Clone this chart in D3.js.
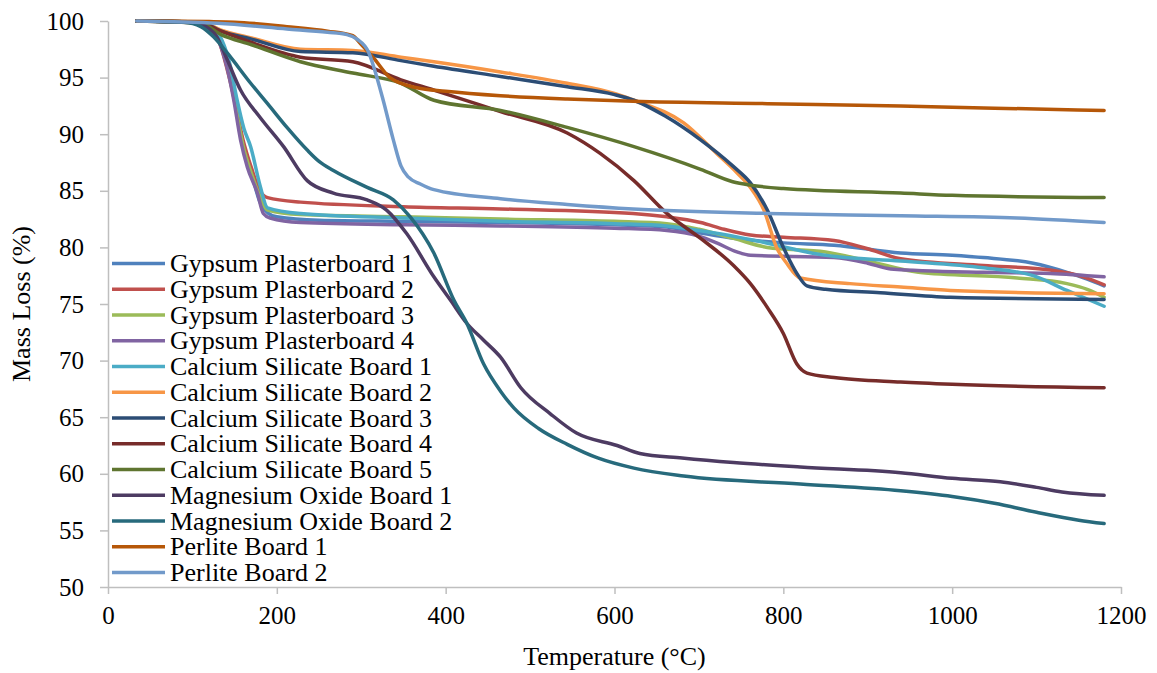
<!DOCTYPE html>
<html lang="en">
<head>
<meta charset="UTF-8">
<title>Mass Loss vs Temperature</title>
<script src="https://d3js.org/d3.v7.min.js"></script>
<style>
  body { margin: 0; background: #fff; }
  svg text { font-family: "Liberation Serif", "Times New Roman", Tinos, "DejaVu Serif", serif !important; fill: #000; }
</style>
</head>
<body>
<script>
// series data: [temperature (°C), mass loss (%)]
var gypsum1 = [[34,100],[100,99.9],[120,99.5],[130,98.6],[140,96.5],[150,93],[160,89],[170,86.5],[180,84],[190,83],[200,82.7],[250,82.4],[350,82.3],[465,82.2],[600,82],[662,81.8],[700,81.3],[741,80.8],[800,80.4],[860,80.2],[939,79.5],[1000,79.3],[1037,79.1],[1096,78.6],[1136,77.8],[1160,77.2],[1180,76.6]];
var gypsum2 = [[34,100],[100,99.9],[120,99.4],[130,98.5],[142,95.5],[150,93],[160,89.5],[170,87],[180,85],[189,84.4],[228,84],[350,83.6],[465,83.4],[622,83.0],[662,82.7],[702,82.2],[730,81.6],[761,81.1],[800,80.9],[860,80.6],[899,79.9],[939,79],[1037,78.4],[1116,78],[1155,77.4],[1180,76.7]];
var gypsum3 = [[34,100],[100,99.9],[120,99.4],[130,98.6],[143,95.5],[151,92.5],[160,89],[170,86.5],[180,84.5],[189,83.3],[228,82.9],[350,82.7],[465,82.5],[600,82.3],[662,82.1],[700,81.6],[741,80.8],[781,80],[850,79.6],[900,78.8],[960,77.8],[1077,77.3],[1136,76.8],[1160,76.3],[1180,75.6]];
var gypsum4 = [[34,100],[100,99.9],[120,99.4],[129,98.6],[141,95.9],[149,93],[157,89.5],[165,87.1],[177,84.8],[184,83],[192,82.6],[228,82.2],[350,82.0],[465,81.9],[600,81.7],[662,81.5],[700,81.0],[721,80.4],[745,79.6],[761,79.3],[860,79.1],[900,78.6],[927,78.1],[1037,77.8],[1116,77.7],[1180,77.4]];
var calSil1 = [[34,100],[100,99.9],[125,99.3],[135,98.3],[145,96],[153,93],[161,90.5],[169,88.9],[180,85.5],[189,83.5],[228,83],[350,82.6],[465,82.3],[600,82.1],[662,81.9],[700,81.5],[733,81.1],[767,80.6],[850,79.3],[939,78.8],[1037,78.2],[1096,77.5],[1136,76.2],[1180,74.8]];
var calSil2 = [[34,100],[110,99.9],[134,99.2],[170,98.5],[228,97.5],[290,97.4],[347,96.8],[386,96.4],[465,95.5],[544,94.5],[600,93.6],[623,93.0],[682,91.0],[721,88.3],[745,86.6],[761,85.3],[777,83.3],[792,80.0],[804,78.6],[820,77.3],[879,76.8],[939,76.5],[998,76.2],[1180,75.9]];
var calSil3 = [[34,100],[110,99.9],[134,99.1],[170,98.4],[228,97.3],[290,97.2],[347,96.5],[386,96.0],[465,95.1],[544,94.2],[600,93.5],[623,93.0],[660,91.6],[702,89.5],[740,87.2],[761,85.7],[781,83.3],[800,80.0],[816,77.7],[828,76.6],[850,76.3],[915,76.0],[998,75.6],[1180,75.4]];
var calSil4 = [[34,100],[110,99.8],[134,99.1],[170,98.1],[228,96.8],[290,96.4],[347,94.8],[386,93.9],[465,92.0],[544,90.1],[583,88.3],[623,85.9],[662,83.0],[702,80.8],[741,78.4],[761,76.8],[781,74.7],[800,72.4],[816,69.7],[828,68.9],[860,68.5],[939,68.1],[1000,67.9],[1180,67.6]];
var calSil5 = [[34,100],[110,99.8],[134,98.8],[170,97.9],[228,96.4],[290,95.4],[347,94.5],[386,93.0],[465,92.1],[544,90.6],[623,88.9],[702,86.9],[740,85.8],[761,85.5],[800,85.2],[939,84.8],[1000,84.6],[1180,84.4]];
var mgo1 = [[34,100],[100,99.9],[120,99.3],[129,98.6],[140,96.8],[157,93.9],[180,91.5],[208,88.9],[236,85.9],[267,84.8],[307,84.2],[330,83.3],[354,81.2],[386,77.4],[406,75.3],[425,73.3],[445,71.8],[465,70.3],[489,67.6],[524,65.3],[555,63.6],[603,62.5],[630,61.8],[680,61.4],[741,61.0],[820,60.6],[939,60.1],[1000,59.6],[1057,59.3],[1100,58.8],[1130,58.4],[1180,58.1]];
var mgo2 = [[34,100],[90,99.9],[110,99.5],[125,98.6],[141,97.2],[169,94.5],[189,92.7],[212,90.6],[236,88.6],[250,87.6],[267,86.8],[307,85.3],[338,84.2],[358,82.7],[386,79.5],[410,75.3],[425,73.3],[445,69.7],[465,67.3],[481,65.8],[510,64.0],[544,62.6],[580,61.4],[623,60.5],[682,59.8],[820,59.1],[939,58.5],[1000,58.0],[1050,57.4],[1100,56.6],[1150,55.9],[1180,55.6]];
var perlite1 = [[34,100],[120,99.95],[150,99.9],[212,99.5],[260,99.1],[290,98.7],[299,98.0],[315,96.7],[334,95.0],[366,94.1],[400,93.8],[465,93.4],[544,93.1],[622,92.9],[781,92.7],[939,92.5],[1050,92.3],[1180,92.1]];
var perlite2 = [[34,100],[130,99.8],[212,99.3],[260,99.0],[283,98.8],[295,98.4],[309,97.2],[315,95.9],[326,93.0],[338,89.5],[347,87.2],[356,86.2],[370,85.6],[386,85.1],[465,84.3],[544,83.8],[622,83.4],[781,83.0],[939,82.8],[1077,82.6],[1180,82.2]];

var names = ["Gypsum Plasterboard 1", "Gypsum Plasterboard 2", "Gypsum Plasterboard 3", "Gypsum Plasterboard 4",
  "Calcium Silicate Board 1", "Calcium Silicate Board 2", "Calcium Silicate Board 3", "Calcium Silicate Board 4",
  "Calcium Silicate Board 5", "Magnesium Oxide Board 1", "Magnesium Oxide Board 2", "Perlite Board 1", "Perlite Board 2"];
var values = [gypsum1, gypsum2, gypsum3, gypsum4, calSil1, calSil2, calSil3, calSil4, calSil5, mgo1, mgo2, perlite1, perlite2];
var colors = ["#4F81BD", "#C0504D", "#9BBB59", "#8064A2", "#4BACC6", "#F79646", "#2C4D75", "#772C2A",
  "#5F7530", "#4D3B62", "#276A7C", "#B65708", "#729ACA"];

var xTicks = [0, 200, 400, 600, 800, 1000, 1200];
var yTicks = [50, 55, 60, 65, 70, 75, 80, 85, 90, 95, 100];

var W = 1157, H = 673;
var margin = { top: 21, right: 36, bottom: 86, left: 108 };
var width = W - margin.left - margin.right,
    height = H - margin.top - margin.bottom;

var svg = d3.select("body").append("svg")
    .attr("width", W)
    .attr("height", H);

var g = svg.append("g")
    .attr("transform", "translate(" + margin.left + "," + margin.top + ")");

var x = d3.scaleLinear().domain([0, 1200]).range([0, width]);
var y = d3.scaleLinear().domain([50, 100]).range([height, 0]);

// axes
var xAxis = g.append("g")
    .attr("transform", "translate(0," + height + ")")
    .call(d3.axisBottom(x).tickValues(xTicks).tickFormat(d3.format("d")).tickSize(7).tickPadding(12).tickSizeOuter(0));
var yAxis = g.append("g")
    .call(d3.axisLeft(y).tickValues(yTicks).tickFormat(d3.format("d")).tickSize(8).tickPadding(16).tickSizeOuter(0));

[xAxis, yAxis].forEach(function(a) {
    a.attr("font-family", null);
    a.select(".domain").attr("stroke", "#bfbfbf").attr("stroke-width", 1.5);
    a.selectAll(".tick line").attr("stroke", "#bfbfbf").attr("stroke-width", 1.5);
    a.selectAll(".tick text").style("font-size", "25px").attr("fill", "#000");
});

// lines
var line = d3.line()
    .x(function(d) { return x(d[0]); })
    .y(function(d) { return y(d[1]); })
    .curve(d3.curveMonotoneX);

g.selectAll(".series")
    .data(values)
    .enter().append("path")
    .attr("class", "series")
    .attr("fill", "none")
    .attr("stroke", function(d, i) { return colors[i]; })
    .attr("stroke-width", 3.5)
    .attr("stroke-linejoin", "round")
    .attr("stroke-linecap", "round")
    .attr("d", line);

// legend
var legend = svg.selectAll(".legend")
    .data(names)
    .enter().append("g")
    .attr("class", "legend")
    .attr("transform", function(d, i) { return "translate(112," + (263.5 + i * 25.75) + ")"; });

legend.append("line")
    .attr("x1", 0).attr("x2", 53)
    .attr("y1", 0).attr("y2", 0)
    .attr("stroke", function(d, i) { return colors[i]; })
    .attr("stroke-width", 3.5);

legend.append("text")
    .attr("x", 58)
    .attr("y", 0)
    .attr("dy", "0.33em")
    .style("font-size", "26px")
    .text(function(d) { return d; });

// axis titles
svg.append("text")
    .attr("x", margin.left + width / 2)
    .attr("y", 665)
    .attr("text-anchor", "middle")
    .style("font-size", "26px")
    .text("Temperature (°C)");

svg.append("text")
    .attr("transform", "translate(30," + (margin.top + height / 2) + ") rotate(-90)")
    .attr("text-anchor", "middle")
    .style("font-size", "26px")
    .text("Mass Loss (%)");
</script>
</body>
</html>
